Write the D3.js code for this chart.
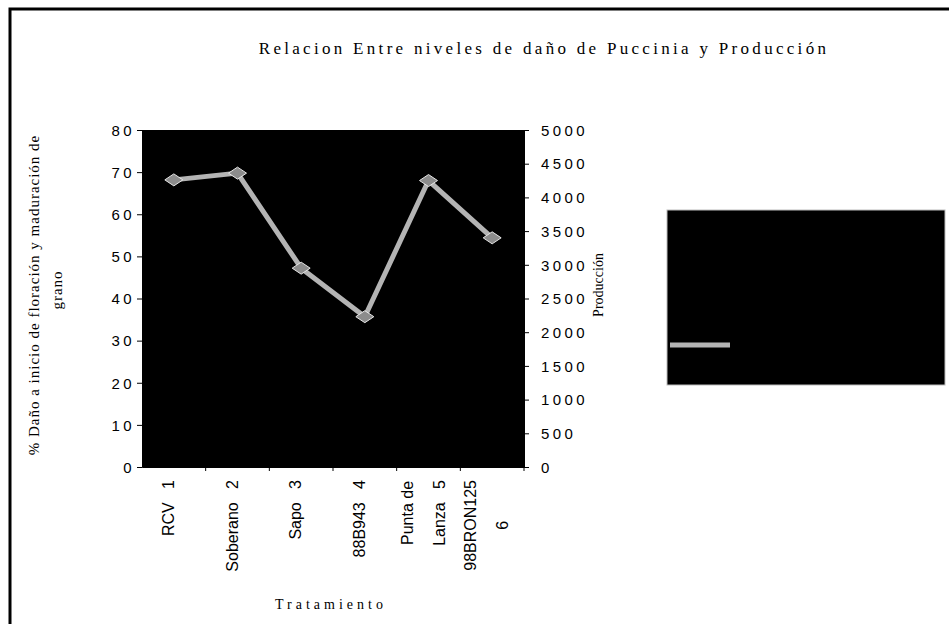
<!DOCTYPE html>
<html>
<head>
<meta charset="utf-8">
<script src="https://cdn.jsdelivr.net/npm/d3@7"></script>
<style>
  body { margin: 0; background: #fff; }
</style>
</head>
<body>
<svg id="chart" width="949" height="624"></svg>
<script>
// datos
const tratamientos = [["RCV\u00a0\u00a0\u00a01"], ["Soberano\u00a0\u00a0\u00a02"], ["Sapo\u00a0\u00a0\u00a03"], ["88B943\u00a0\u00a0\u00a04"], ["Punta de", "Lanza\u00a0\u00a0\u00a05"], ["98BRON125", "6"]];
const produccion = [4260, 4360, 2950, 2230, 4250, 3400];
const danoTicks = [0, 10, 20, 30, 40, 50, 60, 70, 80];
const prodTicks = [0, 500, 1000, 1500, 2000, 2500, 3000, 3500, 4000, 4500, 5000];

const sans = "'Liberation Sans', Arial, sans-serif";
const serif = "'Liberation Serif', 'Times New Roman', serif";

const svg = d3.select("#chart");
const pLeft = 142, pRight = 524, pTop = 130, pBottom = 467;

function tickStyle(sel) {
  sel.attr("font-family", sans).attr("font-size", 15)
    .attr("fill", "#000").style("letter-spacing", "3.4px");
}

// marco
svg.append("path")
  .attr("d", `M10,624 V9 H949`)
  .attr("fill", "none").attr("stroke", "#000").attr("stroke-width", 3);

// titulo
svg.append("text")
  .attr("x", 544).attr("y", 54)
  .attr("text-anchor", "middle")
  .attr("font-family", serif).attr("font-size", 17)
  .style("letter-spacing", "3.3px")
  .text("Relacion Entre niveles de daño de Puccinia y Producción");

const x = d3.scaleBand().domain(d3.range(tratamientos.length)).range([pLeft, pRight]);
const yL = d3.scaleLinear().domain([0, 80]).range([pBottom, pTop]);
const yR = d3.scaleLinear().domain([0, 5000]).range([pBottom, pTop]);

// area de trazado
svg.append("rect")
  .attr("x", pLeft).attr("y", pTop)
  .attr("width", pRight - pLeft).attr("height", pBottom - pTop)
  .attr("fill", "#000");

// eje izquierdo
const axL = svg.append("g").attr("transform", `translate(${pLeft},0)`)
  .call(d3.axisLeft(yL).tickValues(danoTicks).tickSize(5).tickPadding(2));
axL.select(".domain").attr("stroke", "#000");
axL.selectAll("line").attr("stroke", "#000");
axL.selectAll("text").call(tickStyle).attr("dy", "0.35em");

// eje derecho
const axR = svg.append("g").attr("transform", `translate(${pRight},0)`)
  .call(d3.axisRight(yR).tickValues(prodTicks).tickFormat(d3.format("d")).tickSize(5).tickPadding(12));
axR.select(".domain").attr("stroke", "#000");
axR.selectAll("line").attr("stroke", "#000");
axR.selectAll("text").call(tickStyle).attr("dy", "0.35em");

// eje x
const axX = svg.append("g").attr("transform", `translate(0,${pBottom})`)
  .call(d3.axisBottom(x).tickValues([]).tickSizeOuter(0));
axX.select(".domain").attr("stroke", "#000");
axX.selectAll(".tk").data(d3.range(1, tratamientos.length + 1)).enter()
  .append("line")
  .attr("x1", i => pLeft + i * x.step()).attr("x2", i => pLeft + i * x.step())
  .attr("y1", 0).attr("y2", 4).attr("stroke", "#000");

// etiquetas de categoria (rotadas)
tratamientos.forEach((lines, i) => {
  const cx = x(i) + x.bandwidth() / 2 - 6;
  const gl = svg.append("g");
  const n = lines.length;
  const texts = lines.map(t => gl.append("text")
    .attr("font-family", sans).attr("font-size", 16).attr("fill", "#000")
    .text(t));
  const maxLen = d3.max(texts, t => t.node().getComputedTextLength());
  texts.forEach((t, k) => {
    const px = cx + 6 + (k - (n - 1) / 2) * 32;
    const py = 480 + maxLen / 2;
    t.attr("text-anchor", "middle")
      .attr("transform", `translate(${px},${py}) rotate(-90)`);
  });
});

// linea produccion
const line = d3.line()
  .x((d, i) => x(i) + x.bandwidth() / 2)
  .y(d => yR(d));
svg.append("path").datum(produccion)
  .attr("d", line).attr("fill", "none")
  .attr("stroke", "#b4b4b4").attr("stroke-width", 5)
  .attr("stroke-linejoin", "round");

svg.selectAll(".mk").data(produccion).enter()
  .append("path")
  .attr("transform", (d, i) => `translate(${x(i) + x.bandwidth() / 2},${yR(d)})`)
  .attr("d", "M0,-6 L9,0 L0,6 L-9,0 Z")
  .attr("fill", "#8c8c8c").attr("stroke", "#e6e6e6").attr("stroke-width", 1);

// titulos de ejes
svg.append("text")
  .attr("transform", "translate(39,295) rotate(-90)")
  .attr("text-anchor", "middle")
  .attr("font-family", serif).attr("font-size", 15).style("letter-spacing", "1px")
  .text("% Daño a inicio de floración y maduración de");
svg.append("text")
  .attr("transform", "translate(62,290) rotate(-90)")
  .attr("text-anchor", "middle")
  .attr("font-family", serif).attr("font-size", 15).style("letter-spacing", "1px")
  .text("grano");
svg.append("text")
  .attr("transform", "translate(603,285) rotate(-90)")
  .attr("text-anchor", "middle")
  .attr("font-family", serif).attr("font-size", 14)
  .text("Producción");
svg.append("text")
  .attr("x", 331).attr("y", 609)
  .attr("text-anchor", "middle")
  .attr("font-family", serif).attr("font-size", 14).style("letter-spacing", "4px")
  .text("Tratamiento");

// leyenda
svg.append("rect")
  .attr("x", 667).attr("y", 210).attr("width", 278).attr("height", 175)
  .attr("fill", "#000").attr("stroke", "#bbb").attr("stroke-width", 1);
svg.append("line")
  .attr("x1", 670).attr("x2", 730).attr("y1", 345).attr("y2", 345)
  .attr("stroke", "#b4b4b4").attr("stroke-width", 5);
</script>
</body>
</html>
